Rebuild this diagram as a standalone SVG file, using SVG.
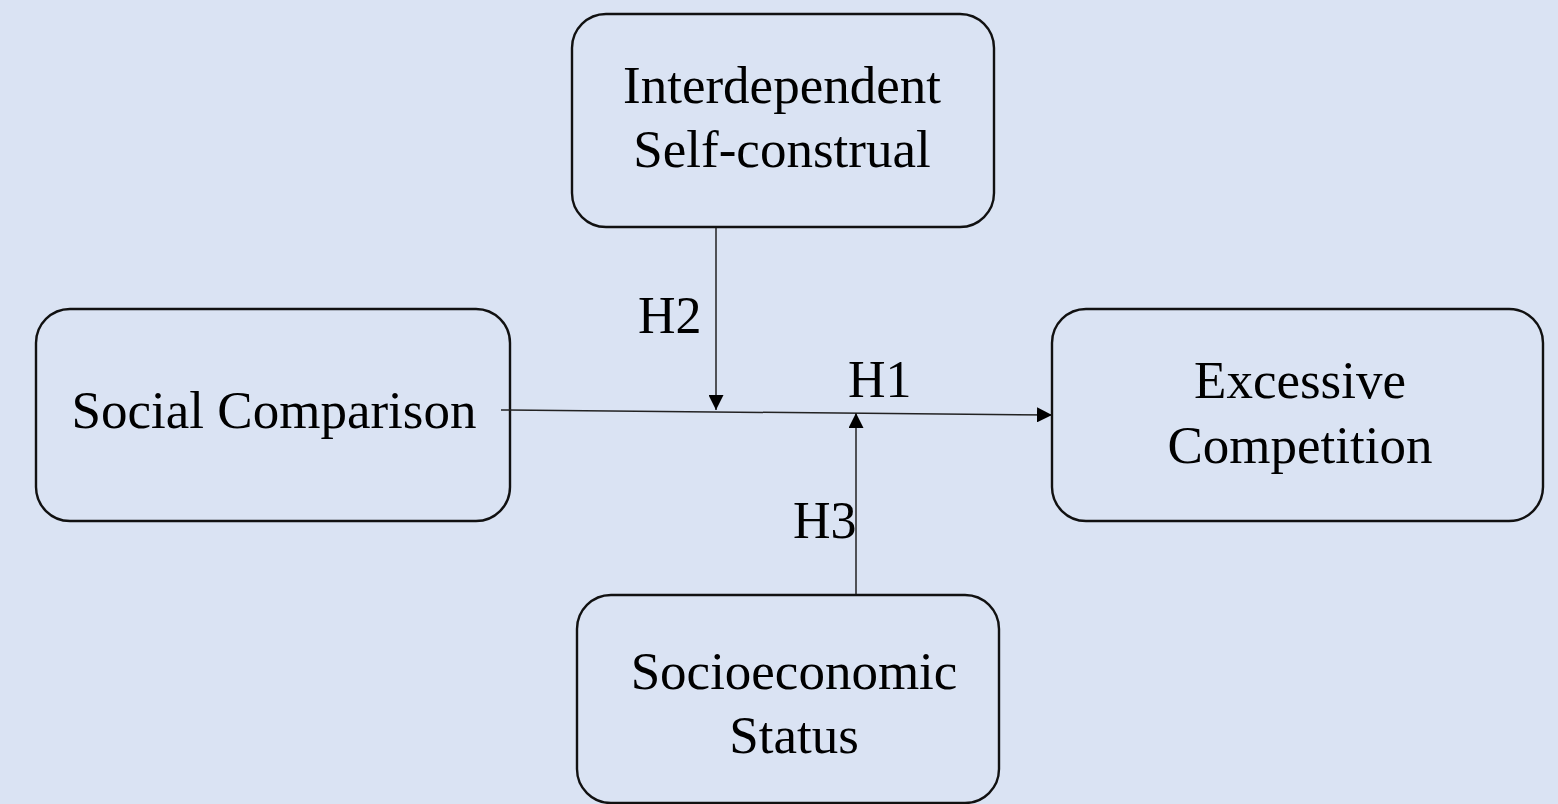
<svg xmlns="http://www.w3.org/2000/svg" width="1558" height="804" viewBox="0 0 1558 804">
<defs>
<style>
.box{fill:#DAE3F3;stroke:#111;stroke-width:2.4}
.t{font-family:"Liberation Serif","Times New Roman",serif;font-size:53px;fill:#000;text-anchor:middle}
.h{font-family:"Liberation Serif","Times New Roman",serif;font-size:52px;fill:#000}
.c{stroke:#222;stroke-width:1.5;fill:none}
</style>
<marker id="ah2" viewBox="0 0 10 10" refX="10" refY="5" markerWidth="15" markerHeight="15" markerUnits="userSpaceOnUse" orient="auto">
<path d="M0,0 L10,5 L0,10 Z" fill="#000"/>
</marker>
</defs>
<rect width="1558" height="804" fill="#DAE3F3"/>
<g id="node-interdependent">
<rect class="box" x="572" y="14" width="422" height="213" rx="34"/>
<text class="t" x="782" y="103">Interdependent</text>
<text class="t" x="782" y="167">Self-construal</text>
</g>
<g id="node-social">
<rect class="box" x="36" y="309" width="474" height="212" rx="34"/>
<text class="t" x="274" y="428">Social Comparison</text>
</g>
<g id="node-excessive">
<rect class="box" x="1052" y="309" width="491" height="212" rx="34"/>
<text class="t" x="1300" y="398">Excessive</text>
<text class="t" x="1300" y="463">Competition</text>
</g>
<g id="node-socioeconomic">
<rect class="box" x="577" y="595" width="422" height="208" rx="34"/>
<text class="t" x="794" y="689">Socioeconomic</text>
<text class="t" x="794" y="753">Status</text>
</g>
<g id="connectors">
<line class="c" x1="501" y1="410" x2="1052" y2="415" marker-end="url(#ah2)" stroke="#444"/>
<line class="c" x1="716" y1="228" x2="716" y2="410" marker-end="url(#ah2)"/>
<line class="c" x1="856" y1="594" x2="856" y2="413" marker-end="url(#ah2)"/>
<text class="h" x="638" y="333">H2</text>
<text class="h" x="848" y="397">H1</text>
<text class="h" x="793" y="538">H3</text>
</g>
</svg>
